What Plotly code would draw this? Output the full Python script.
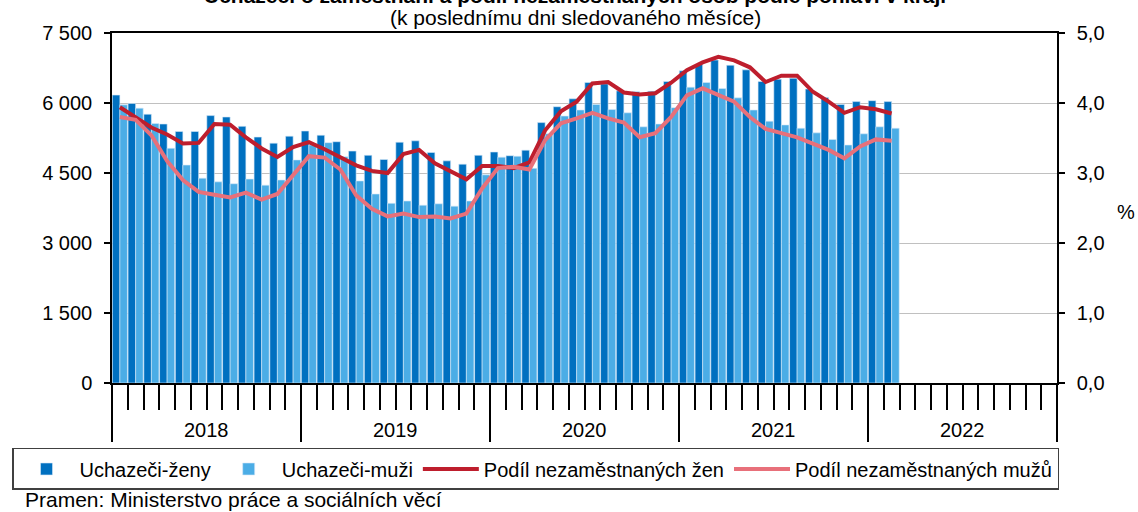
import plotly.graph_objects as go

# ---- data (monthly, Jan 2018 .. Feb 2022) ----
years = ["2018", "2019", "2020", "2021", "2022"]
months_per_year = 12

women = [6170, 5990, 5760, 5550, 5390, 5390, 5730, 5700, 5500, 5270, 5140, 5290,
         5400, 5310, 5170, 4970, 4880, 4790, 5160, 5190, 4940, 4760, 4690, 4880,
         4950, 4870, 4990, 5580, 5920, 6090, 6440, 6410, 6260, 6240, 6250, 6460,
         6690, 6830, 6920, 6810, 6710, 6460, 6510, 6530, 6300, 6120, 5970, 6030,
         6050, 6030]
men = [5960, 5890, 5560, 5030, 4670, 4390, 4310, 4270, 4370, 4240, 4350, 4780,
       5100, 5150, 4850, 4330, 4050, 3850, 3900, 3810, 3840, 3790, 3900, 4460,
       4840, 4860, 4600, 5340, 5720, 5850, 5970, 5860, 5790, 5490, 5550, 5900,
       6340, 6440, 6310, 6110, 5850, 5610, 5530, 5460, 5360, 5220, 5100, 5340,
       5490, 5460]
women_pct = [3.94, 3.80, 3.65, 3.55, 3.42, 3.43, 3.70, 3.69, 3.51, 3.35, 3.23, 3.37,
             3.44, 3.34, 3.23, 3.11, 3.03, 3.00, 3.27, 3.33, 3.14, 3.02, 2.91, 3.10,
             3.10, 3.07, 3.15, 3.61, 3.88, 4.02, 4.28, 4.30, 4.15, 4.12, 4.14, 4.29,
             4.47, 4.58, 4.66, 4.61, 4.51, 4.30, 4.39, 4.39, 4.16, 4.02, 3.86, 3.94,
             3.91, 3.85]
men_pct = [3.80, 3.76, 3.54, 3.17, 2.90, 2.73, 2.69, 2.65, 2.72, 2.62, 2.70, 2.97,
           3.24, 3.22, 3.05, 2.68, 2.49, 2.38, 2.42, 2.37, 2.38, 2.35, 2.42, 2.78,
           3.07, 3.09, 3.05, 3.47, 3.71, 3.78, 3.86, 3.78, 3.72, 3.51, 3.57, 3.80,
           4.11, 4.21, 4.11, 4.02, 3.80, 3.63, 3.57, 3.51, 3.42, 3.33, 3.21, 3.38,
           3.48, 3.46]

left_ticks = [0, 1500, 3000, 4500, 6000, 7500]
right_ticks = [0, 1, 2, 3, 4, 5]

FONT = "Liberation Sans, Arial, sans-serif"
TICK_SIZE = 20
TEXT_SIZE = 21
LEGEND_SIZE = 20
n_total = len(years) * months_per_year
x = list(range(len(women)))

fig = go.Figure()
fig.add_bar(x=x, y=women, name="Uchazeči-ženy",
            marker=dict(color="#0070C0", line=dict(color="#D6EAF8", width=0.6)))
fig.add_bar(x=x, y=men, name="Uchazeči-muži",
            marker=dict(color="#4BADE6", line=dict(color="#D6EAF8", width=0.6)))
fig.add_scatter(x=x, y=women_pct, yaxis="y2", mode="lines", name="Podíl nezaměstnaných žen",
                line=dict(color="#BE1E2D", width=4))
fig.add_scatter(x=x, y=men_pct, yaxis="y2", mode="lines", name="Podíl nezaměstnaných mužů",
                line=dict(color="#E8707A", width=4))

year_bounds = [i * months_per_year - 0.5 for i in range(len(years) + 1)]

annotations = []
for i, yr in enumerate(years):
    annotations.append(dict(text=yr, x=i * months_per_year + (months_per_year - 1) / 2,
                            xref="x", y=-0.135, yref="paper", showarrow=False,
                            font=dict(size=TICK_SIZE, family=FONT, color="black"),
                            xanchor="center", yanchor="middle"))
annotations += [
    dict(text="<b>Uchazeči o zaměstnání a podíl nezaměstnaných osob podle pohlaví v kraji</b>",
         x=0.49, xref="paper", y=1.108, yref="paper", showarrow=False,
         font=dict(size=TEXT_SIZE, family=FONT, color="black"), xanchor="center", yanchor="middle"),
    dict(text="(k poslednímu dni sledovaného měsíce)", x=0.49, xref="paper", y=1.045,
         yref="paper", showarrow=False, font=dict(size=TEXT_SIZE, family=FONT, color="black"),
         xanchor="center", yanchor="middle"),
    dict(text="%", x=1.073, xref="paper", y=0.49, yref="paper", showarrow=False,
         font=dict(size=TICK_SIZE, family=FONT, color="black"), xanchor="center", yanchor="middle"),
    dict(text="Pramen: Ministerstvo práce a sociálních věcí", x=-0.094, xref="paper",
         y=-0.334, yref="paper", showarrow=False,
         font=dict(size=TEXT_SIZE, family=FONT, color="black"), xanchor="left", yanchor="middle"),
]

fig.update_layout(
    width=1138, height=512,
    margin=dict(l=112, r=81, t=33, b=129, autoexpand=False),
    paper_bgcolor="white", plot_bgcolor="white",
    separators=", ",
    barmode="group", bargap=0.04, bargroupgap=0.0,
    font=dict(family=FONT, size=TICK_SIZE, color="black"),
    showlegend=True,
    legend=dict(orientation="h", xref="paper", x=-0.1058, xanchor="left",
                yref="paper", y=-0.1857, yanchor="top",
                bordercolor="#404040", borderwidth=1.5, bgcolor="white",
                font=dict(size=LEGEND_SIZE, family=FONT), itemwidth=56, tracegroupgap=0),
    annotations=annotations,
    xaxis=dict(range=[-0.5, n_total - 0.5], tickmode="array", tickvals=year_bounds,
               showticklabels=False, ticks="outside", ticklen=57, tickwidth=1.5,
               tickcolor="black", showline=True, linecolor="black", linewidth=1.5,
               mirror=True, showgrid=False, zeroline=False, automargin=False,
               minor=dict(tickmode="linear", tick0=-0.5, dtick=1, ticks="outside",
                          ticklen=25, tickwidth=1.5, tickcolor="black", showgrid=False)),
    yaxis=dict(range=[0, 7500], tickmode="array", tickvals=left_ticks, tickformat=",d",
               ticks="outside", ticklen=6, tickwidth=1.5, tickcolor="black",
               showline=True, linecolor="black", linewidth=1.5, automargin=False,
               showgrid=True, gridcolor="#C0C0C0", gridwidth=1, zeroline=False,
               tickfont=dict(size=TICK_SIZE), ticklabelstandoff=8),
    yaxis2=dict(range=[0, 5], overlaying="y", side="right", tickmode="array",
                tickvals=right_ticks, tickformat=".1f", ticks="outside", ticklen=6,
                tickwidth=1.5, tickcolor="black", showline=True, linecolor="black",
                linewidth=1.5, showgrid=False, zeroline=False, automargin=False,
                tickfont=dict(size=TICK_SIZE), ticklabelstandoff=8),
)

fig.write_html("out.html", config={"displayModeBar": False},
               post_script="document.body.style.margin='0';document.body.style.overflow='hidden';")
